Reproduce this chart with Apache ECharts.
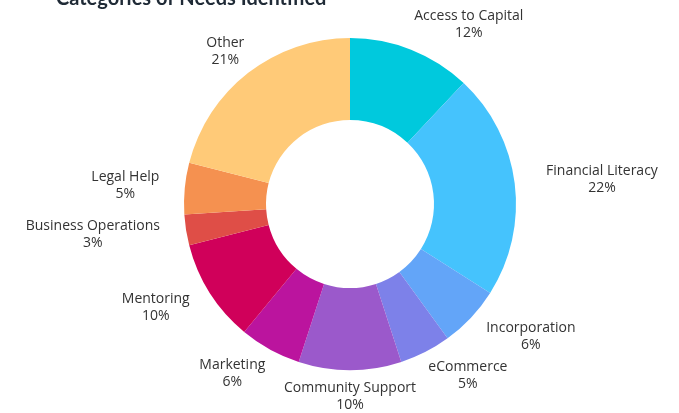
<!DOCTYPE html>
<html>
<head>
<meta charset="utf-8">
<script src="https://cdn.jsdelivr.net/npm/echarts@6/dist/echarts.min.js"></script>
<style>
  html, body { margin: 0; padding: 0; background: #ffffff; }
  #chart { width: 679px; height: 413px; }
</style>
</head>
<body>
<div id="chart"></div>
<script>
// Share of each need category (percent), clockwise from 12 o'clock
const categories = [
  'Access to Capital', 'Financial Literacy', 'Incorporation', 'eCommerce',
  'Community Support', 'Marketing', 'Mentoring', 'Business Operations',
  'Legal Help', 'Other'
];
const shares = [12, 22, 6, 5, 10, 6, 10, 3, 5, 21];
const sliceColors = [
  '#00C9DD', '#45C3FD', '#63A5F8', '#7D81E9', '#9B59CB',
  '#BB149E', '#D0005A', '#DF4E47', '#F59150', '#FFCA78'
];

const CX = 350, CY = 204, R_IN = 84, R_OUT = 166, GAP = 10;
const total = shares.reduce((a, b) => a + b, 0);

// mid angle of each slice, measured clockwise from the top
const midAngles = [];
let acc = 0;
shares.forEach(v => {
  midAngles.push(((acc + v / 2) / total) * Math.PI * 2);
  acc += v;
});

const chart = echarts.init(document.getElementById('chart'), null, { renderer: 'canvas' });
chart.setOption({
  backgroundColor: '#ffffff',
  animation: false,
  title: {
    text: 'Categories of Needs Identified',
    left: 51,
    top: -16,
    textStyle: { fontFamily: 'Lato', fontSize: 20, fontWeight: 'bold', color: '#1f2a36' }
  },
  series: [{
    type: 'pie',
    center: [CX, CY],
    radius: [R_IN, R_OUT],
    startAngle: 90,
    clockwise: true,
    avoidLabelOverlap: false,
    itemStyle: { borderWidth: 0 },
    label: {
      show: true,
      position: 'outside',
      formatter: p => p.name + '\n' + p.value + '%',
      fontFamily: 'Open Sans',
      fontSize: 14,
      lineHeight: 17,
      color: '#333333',
      align: 'center'
    },
    labelLine: { show: false },
    labelLayout: params => {
      const i = params.dataIndex;
      const a = midAngles[i];
      const s = Math.sin(a), c = Math.cos(a);
      const w = params.labelRect.width, h = params.labelRect.height;
      const reach = R_OUT + GAP;
      // side labels sit a little further out; upper labels drift clockwise
      const extra = Math.abs(s) > 0.3 ? (s > 0 ? 20 : 17) * Math.sign(s) : 0;
      const drift = 15 * Math.max(c, 0);
      return {
        x: CX + s * (reach + w / 2) + extra + drift,
        y: CY - c * (reach + h / 2),
        align: 'center',
        verticalAlign: 'middle'
      };
    },
    data: categories.map((name, i) => ({
      name: name,
      value: shares[i],
      itemStyle: { color: sliceColors[i] }
    }))
  }]
});
</script>
</body>
</html>
